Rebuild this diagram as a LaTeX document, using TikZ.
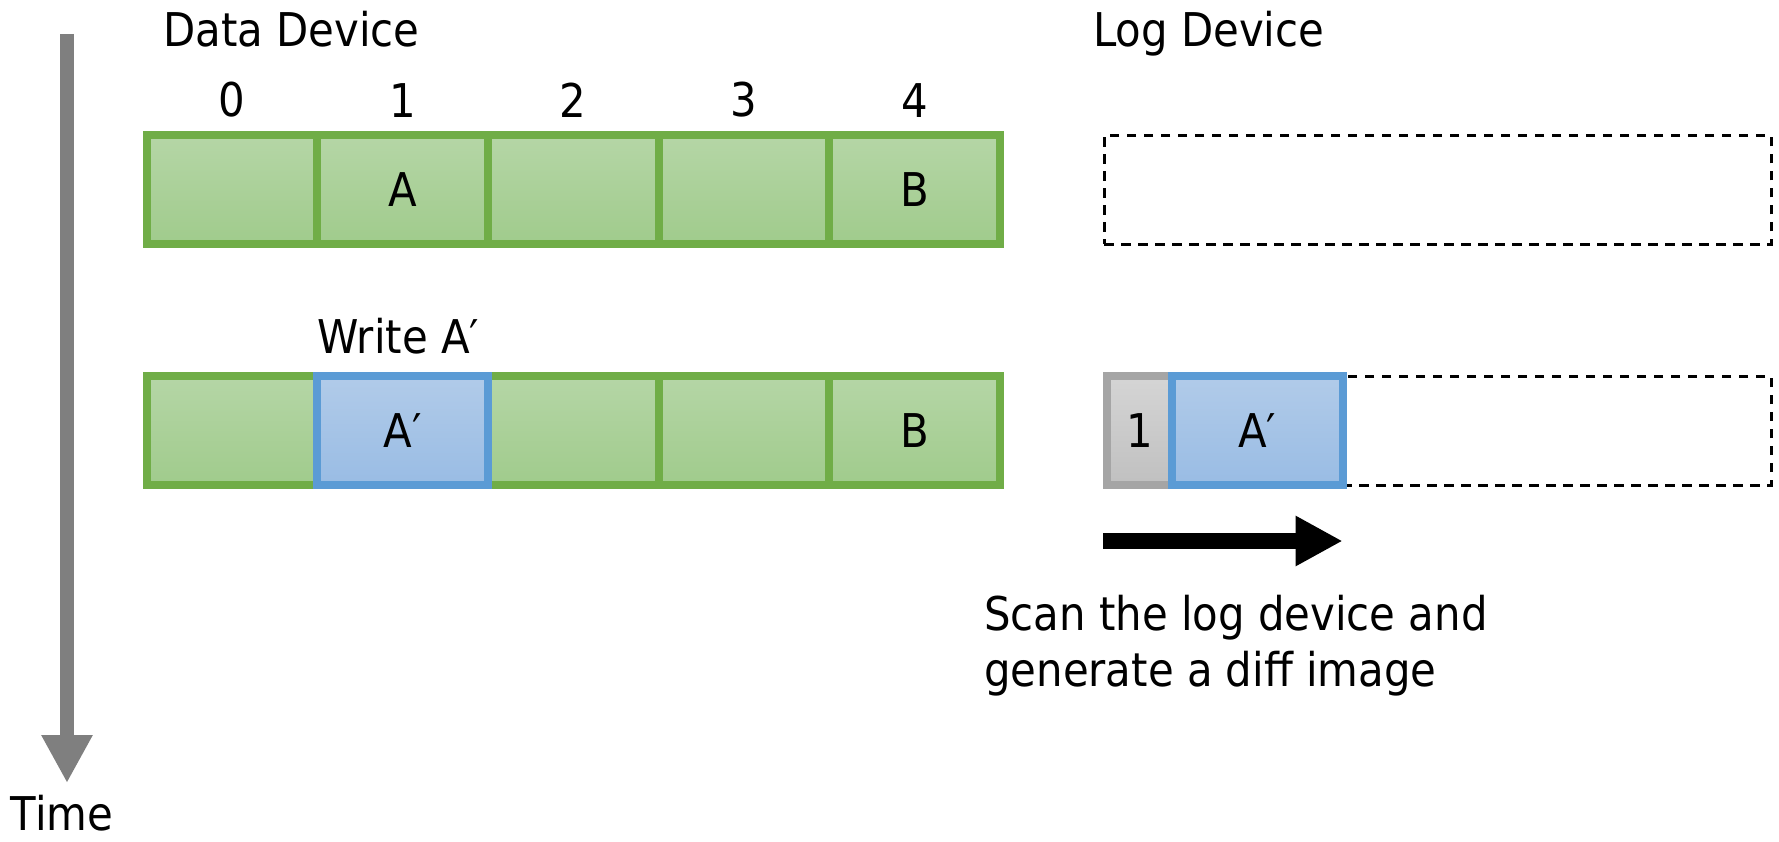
\documentclass[tikz,border=0pt]{standalone}
\usepackage{fontspec}
\setmainfont{DejaVu Sans Condensed}
\usepackage{xcolor}
\usetikzlibrary{arrows.meta,positioning}

\definecolor{blkgreen}{HTML}{70AD47}
\definecolor{blkgreentop}{HTML}{B5D6A6}
\definecolor{blkgreenbot}{HTML}{A0CB8C}
\definecolor{blkblue}{HTML}{5B9BD5}
\definecolor{blkbluetop}{HTML}{B1CBE9}
\definecolor{blkbluebot}{HTML}{99BCE4}
\definecolor{blkgray}{HTML}{A5A5A5}
\definecolor{blkgraytop}{HTML}{D5D5D5}
\definecolor{blkgraybot}{HTML}{C0C0C0}
\definecolor{timegray}{HTML}{7F7F7F}

\newcommand{\bigtxt}{\fontsize{46.5}{56}\selectfont}

\begin{document}
\begin{tikzpicture}[x=1pt, y=1pt,
  blk/.style={line width=8pt, minimum width=170.6pt, minimum height=109pt, inner sep=0pt, outer sep=0pt, font=\bigtxt},
  dblk/.style={blk, draw=blkgreen, top color=blkgreentop, bottom color=blkgreenbot},
  newblk/.style={blk, draw=blkblue, top color=blkbluetop, bottom color=blkbluebot},
  hdrblk/.style={blk, draw=blkgray, top color=blkgraytop, bottom color=blkgraybot, minimum width=65pt},
  logarea/.style={draw, line width=3pt, dash pattern=on 9.5pt off 7.5pt, minimum width=667pt, minimum height=109pt, inner sep=0pt, outer sep=0pt},
  lbl/.style={font=\bigtxt, inner sep=0pt},
  node distance=0pt
]
\useasboundingbox (0,0) rectangle (1779,-842);

% titles
\node[lbl, anchor=base west] (dtitle) at (163,-47) {Data Device};
\node[lbl, anchor=base west] (ltitle) at (1093,-47) {Log Device};

% data device, before the write
\node[dblk] (d0) at (232,-190) {};
\node[dblk, right=of d0] (d1) {A};
\node[dblk, right=of d1] (d2) {};
\node[dblk, right=of d2] (d3) {};
\node[dblk, right=of d3] (d4) {B};

\node[lbl, above=18pt of d0] (n0) {0};
\node[lbl, above=18pt of d1] (n1) {1};
\node[lbl, above=18pt of d2] (n2) {2};
\node[lbl, above=18pt of d3] (n3) {3};
\node[lbl, above=18pt of d4] (n4) {4};

% empty log device
\node[logarea] (log0) at (1437.5,-190) {};

% data device, after the write
\node[dblk] (e0) at (232,-430.5) {};
\node[dblk, right=170.6pt of e0] (e2) {};
\node[dblk, right=of e2] (e3) {};
\node[dblk, right=of e3] (e4) {B};
\node[newblk, right=of e0] (e1) {A′};
\node[lbl, above right=22pt and 0pt of e1.north west, anchor=south west] (wr) {Write A′};

% log device holding the record
\node[logarea] (log1) at (1437.5,-430.5) {};
\node[hdrblk, anchor=west] (lhdr) at (1107,-430.5) {1};
\node[newblk, right=of lhdr] (lrec) {A′};

% scan direction
\coordinate (scan) at (1103,-541);
\draw[line width=16pt, -{Triangle[length=47pt, width=47pt]}] (scan) -- (scan -| lrec.east);
\node[lbl, anchor=north west, align=left] (scantxt) at (984,-595) {Scan the log device and\\generate a diff image};

% time axis
\node[lbl, anchor=base] (time) at (62,-830) {Time};
\coordinate (tstart) at (67,-34);
\coordinate (tend) at (67,-783);
\draw[timegray, line width=14pt, -{Triangle[length=48pt, width=48pt]}] (tstart) -- (tend);

\end{tikzpicture}
\end{document}
